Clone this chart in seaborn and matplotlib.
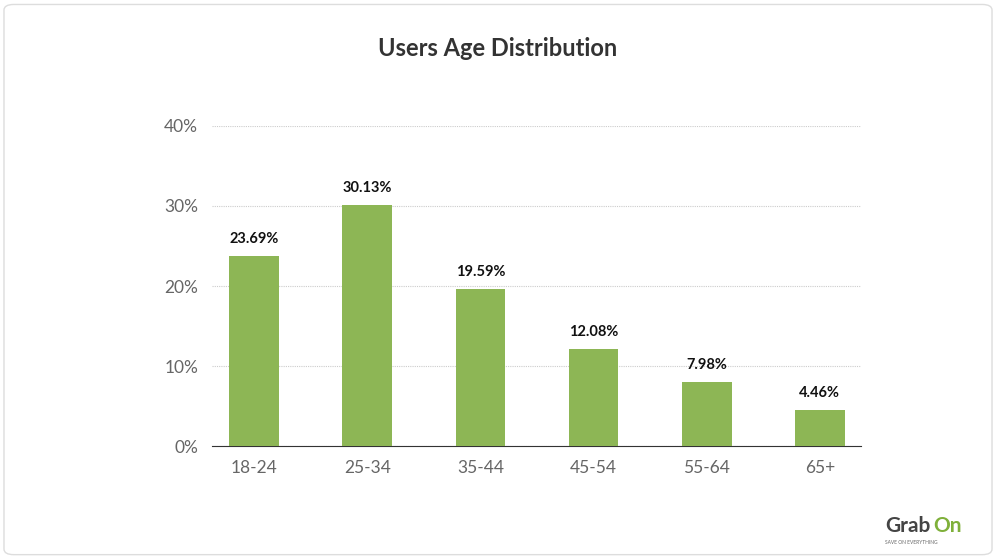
import matplotlib
matplotlib.use("Agg")
import matplotlib.pyplot as plt
import seaborn as sns
import pandas as pd
from matplotlib.patches import FancyBboxPatch

categories = ["18-24", "25-34", "35-44", "45-54", "55-64", "65+"]
values = [23.69, 30.13, 19.59, 12.08, 7.98, 4.46]
yticks = [0, 10, 20, 30, 40]
ytick_labels = ["0%", "10%", "20%", "30%", "40%"]

plt.rcParams["font.family"] = "Lato"
fig = plt.figure(figsize=(9.96, 5.58), dpi=100)
border = FancyBboxPatch((0.004, 0.006), 0.992, 0.986, boxstyle="round,pad=0,rounding_size=0.01",
                        transform=fig.transFigure, fc="white", ec="#dddddd", lw=1, zorder=-10)
fig.patches.append(border)
ax = fig.add_axes([0.213, 0.2007, 0.651, 0.5735])
ax.set_zorder(5)
df = pd.DataFrame({"age": categories, "pct": values})
sns.barplot(data=df, x="age", y="pct", color="#8db655", saturation=1, width=0.44, ax=ax, zorder=3)
ax.set_xlim(-0.372, 5.36)
ax.set_ylim(0, 40)
ax.set_yticks(yticks)
ax.set_yticklabels(ytick_labels)
ax.grid(axis="y", color="#cccccc", ls=(0, (1, 1)), lw=0.8, zorder=0)
for s in ["top", "right", "left"]:
    ax.spines[s].set_visible(False)
ax.spines["bottom"].set_color("#333333")
ax.tick_params(axis="both", length=0, labelsize=12.5, labelcolor="#666666", pad=10)
ax.set_xlabel("")
ax.set_ylabel("")
ax.patch.set_alpha(0)
for i, v in enumerate(values):
    ax.text(i, v + 1.3, f"{v:.2f}%", ha="center", va="bottom", fontsize=10.5, fontweight="bold", color="#111111")
fig.text(0.5, 0.913, "Users Age Distribution", ha="center", va="center", fontsize=17, fontweight="bold", color="#333333")
fig.text(0.889, 0.057, "Grab", ha="left", va="center", fontsize=15, fontweight="bold", color="#444444")
fig.text(0.937, 0.057, "On", ha="left", va="center", fontsize=15, fontweight="bold", color="#7fb03a")
fig.text(0.915, 0.027, "SAVE ON EVERYTHING", ha="center", va="center", fontsize=3.5, color="#666666")
fig.savefig("out.png", dpi=100)
